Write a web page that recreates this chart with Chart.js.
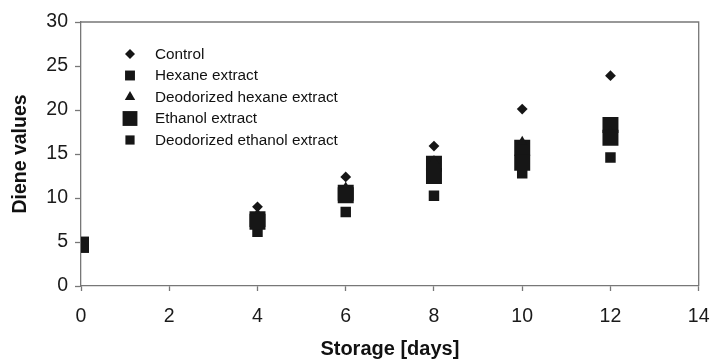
<!DOCTYPE html>
<html>
<head>
<meta charset="utf-8">
<script src="https://cdn.jsdelivr.net/npm/chart.js@4/dist/chart.umd.min.js"></script>
<style>
  html, body { margin: 0; padding: 0; background: #fff; }
  #wrap { width: 710px; height: 359px; position: relative; }
</style>
</head>
<body>
<div id="wrap"><canvas id="c" width="710" height="359"></canvas></div>
<script>
const days = [0, 4, 6, 8, 10, 12];
const control = [4.7, 9.0, 12.4, 15.9, 20.1, 23.9];
const hexaneExtract = [4.7, 7.3, 10.3, 12.5, 14.0, 16.85];
const deodorizedHexaneExtract = [4.7, 8.2, 11.2, 14.2, 16.4, 17.5];
const ethanolExtract = [4.7, 7.6, 10.6, 13.9, 15.7, 18.3];
const deodorizedEthanolExtract = [4.7, 6.15, 8.4, 10.25, 12.8, 14.6];
const xTicks = [0, 2, 4, 6, 8, 10, 12, 14];
const yTicks = [0, 5, 10, 15, 20, 25, 30];

const INK = '#161616';
const FONT = '"Liberation Sans", Arial, sans-serif';

function pts(vals) { return days.map((d, i) => ({ x: d, y: vals[i] })); }

const series = [
  { label: 'Control', data: control, style: 'rectRot', r: 5.4 },
  { label: 'Hexane extract', data: hexaneExtract, style: 'rect', r: 11.3 },
  { label: 'Deodorized hexane extract', data: deodorizedHexaneExtract, style: 'triangle', r: 6 },
  { label: 'Ethanol extract', data: ethanolExtract, style: 'rect', r: 11.3 },
  { label: 'Deodorized ethanol extract', data: deodorizedEthanolExtract, style: 'rect', r: 7.4 }
];
const legendRadii = [5, 7, 6, 10.5, 6.5];

const frame = {
  id: 'frame',
  afterDraw(chart) {
    const { ctx, chartArea: a } = chart;
    ctx.save();
    ctx.strokeStyle = '#777';
    ctx.lineWidth = 1.3;
    ctx.beginPath();
    ctx.moveTo(a.left, a.top);
    ctx.lineTo(a.right, a.top);
    ctx.lineTo(a.right, a.bottom);
    ctx.stroke();
    ctx.restore();
  }
};

const innerLegend = {
  id: 'innerLegend',
  afterDraw(chart) {
    const ctx = chart.ctx;
    const x0 = 130, y0 = 54, dy = 21.5, tx = 155;
    ctx.save();
    chart.data.datasets.forEach((ds, i) => {
      const y = y0 + i * dy;
      const opts = { pointStyle: ds.pointStyle, radius: legendRadii[i], rotation: 0, borderWidth: 0 };
      ctx.fillStyle = INK;
      ctx.strokeStyle = INK;
      ctx.lineWidth = 0;
      if (Chart.helpers && Chart.helpers.drawPoint) {
        Chart.helpers.drawPoint(ctx, opts, x0, y);
      }
      ctx.fillStyle = '#111';
      ctx.font = '15.3px ' + FONT;
      ctx.textBaseline = 'middle';
      ctx.textAlign = 'left';
      ctx.fillText(ds.label, tx, y + 0.5);
    });
    ctx.restore();
  }
};

new Chart(document.getElementById('c'), {
  type: 'scatter',
  data: {
    datasets: series.map(s => ({
      label: s.label,
      data: pts(s.data),
      pointStyle: s.style,
      pointRadius: s.r,
      pointHoverRadius: s.r,
      pointBorderWidth: 0,
      backgroundColor: INK,
      borderColor: INK,
      showLine: false
    }))
  },
  options: {
    responsive: false,
    animation: false,
    events: [],
    layout: { padding: { top: 22, right: 10, bottom: 0, left: 0 } },
    plugins: { legend: { display: false }, tooltip: { enabled: false } },
    scales: {
      x: {
        type: 'linear',
        min: 0, max: 14,
        afterBuildTicks(scale) { scale.ticks = xTicks.map(v => ({ value: v })); },
        afterFit(scale) { scale.height = 73; scale.paddingLeft = 0; scale.paddingRight = 0; },
        grid: { display: true, drawOnChartArea: false, drawTicks: true, tickLength: 5, tickColor: '#777', tickWidth: 1.3 },
        border: { display: true, color: '#777', width: 1.3 },
        ticks: { color: '#1a1a1a', font: { family: FONT, size: 19.5 }, padding: 14, maxRotation: 0 },
        title: { display: true, text: 'Storage [days]', color: '#111', font: { family: FONT, size: 20, weight: 'bold', lineHeight: 1 }, padding: { top: 0, bottom: 0 } }
      },
      y: {
        type: 'linear',
        min: 0, max: 30,
        afterBuildTicks(scale) { scale.ticks = yTicks.map(v => ({ value: v })); },
        afterFit(scale) { scale.width = 81; scale.paddingTop = 0; scale.paddingBottom = 0; },
        grid: { display: true, drawOnChartArea: false, drawTicks: true, tickLength: 6, tickColor: '#777', tickWidth: 1.3 },
        border: { display: true, color: '#777', width: 1.3 },
        ticks: { color: '#1a1a1a', font: { family: FONT, size: 19.5 }, padding: 7 },
        title: { display: true, text: 'Diene values', color: '#111', font: { family: FONT, size: 19.5, weight: 'bold', lineHeight: 1 }, padding: { top: 11, bottom: 0 } }
      }
    }
  },
  plugins: [frame, innerLegend]
});
</script>
</body>
</html>
